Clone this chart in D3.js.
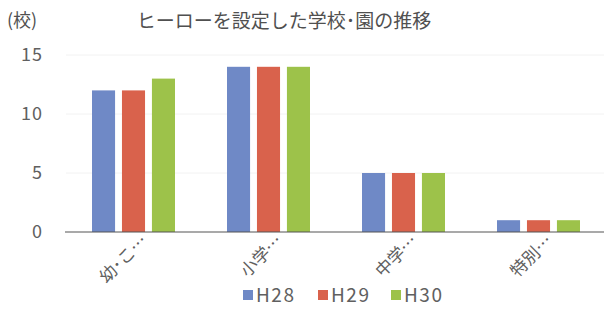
<!DOCTYPE html>
<meta charset="utf-8">
<script src="https://d3js.org/d3.v7.min.js"></script>
<style>
  body { margin: 0; background: #fff; }
  text { font-family: "Noto Sans CJK JP", "Noto Sans", sans-serif; fill: #606060; }
</style>
<div id="my_dataviz"></div>
<script>

// data
var categories = ["幼･こ…", "小学…", "中学…", "特別…"];
var years = ["H28", "H29", "H30"];
var h28 = [12, 14, 5, 1];
var h29 = [12, 14, 5, 1];
var h30 = [13, 14, 5, 1];
var yTicks = [0, 5, 10, 15];
var colors = ["#6f89c6", "#d9624c", "#9dc24a"];

var width = 609, height = 309;

var svg = d3.select("#my_dataviz")
  .append("svg")
    .attr("width", width)
    .attr("height", height);

var series = [h28, h29, h30];
var data = categories.map(function(c, i) {
  return { cat: c, values: years.map(function(y, j) { return { year: y, value: series[j][i] }; }) };
});

// scales
var x = d3.scaleBand()
  .domain(categories)
  .range([66, 606]);

var xInner = d3.scaleBand()
  .domain(years)
  .range([0, 83])
  .paddingInner(0.23);

var y = d3.scaleLinear()
  .domain([0, 15])
  .range([232, 55]);

// faint gridlines
svg.append("g")
  .selectAll("line")
  .data(yTicks.slice(1))
  .enter().append("line")
    .attr("x1", 66).attr("x2", 604)
    .attr("y1", function(d) { return y(d); })
    .attr("y2", function(d) { return y(d); })
    .attr("stroke", "#f2f2f2")
    .attr("stroke-width", 1);

// Y axis labels
svg.append("g")
  .selectAll("text")
  .data(yTicks)
  .enter().append("text")
    .attr("x", 43)
    .attr("y", function(d) { return y(d); })
    .attr("dy", "0.35em")
    .attr("text-anchor", "end")
    .style("font-size", "18px")
    .style("letter-spacing", "1px")
    .text(function(d) { return d; });

// bars
var groups = svg.append("g")
  .selectAll("g")
  .data(data)
  .enter().append("g")
    .attr("transform", function(d) { return "translate(" + (x(d.cat) + (x.bandwidth() - 83) / 2) + ",0)"; });

groups.selectAll("rect")
  .data(function(d) { return d.values; })
  .enter().append("rect")
    .attr("x", function(d) { return xInner(d.year); })
    .attr("y", function(d) { return y(d.value); })
    .attr("width", xInner.bandwidth())
    .attr("height", function(d) { return y(0) - y(d.value); })
    .attr("fill", function(d, i) { return colors[i]; });

// baseline
svg.append("line")
  .attr("x1", 65).attr("x2", 604)
  .attr("y1", y(0)).attr("y2", y(0))
  .attr("stroke", "#555")
  .attr("stroke-width", 1.2);

// X labels, rotated
svg.append("g")
  .selectAll("text")
  .data(categories)
  .enter().append("text")
    .attr("transform", function(d) {
      return "translate(" + (x(d) + x.bandwidth() / 2 + 15) + ",242) rotate(-45)";
    })
    .attr("text-anchor", "end")
    .style("font-size", "17px")
    .text(function(d) { return d; });

// title
svg.append("text")
  .attr("x", 284)
  .attr("y", 28)
  .attr("text-anchor", "middle")
  .style("font-size", "19px")
  .style("fill", "#505050")
  .text("ヒーローを設定した学校･園の推移");

// unit
svg.append("text")
  .attr("x", 7)
  .attr("y", 27)
  .style("font-size", "18px")
  .style("fill", "#505050")
  .text("(校)");

// legend
var legendX = [243, 318, 391];
var legend = svg.append("g")
  .selectAll("g")
  .data(years)
  .enter().append("g")
    .attr("transform", function(d, i) { return "translate(" + legendX[i] + ",290)"; });

legend.append("rect")
  .attr("width", 10)
  .attr("height", 10)
  .attr("fill", function(d, i) { return colors[i]; });

legend.append("text")
  .attr("x", 13)
  .attr("y", 5)
  .attr("dy", "0.36em")
  .style("font-size", "19px")
  .style("letter-spacing", "1.5px")
  .text(function(d) { return d; });

</script>
